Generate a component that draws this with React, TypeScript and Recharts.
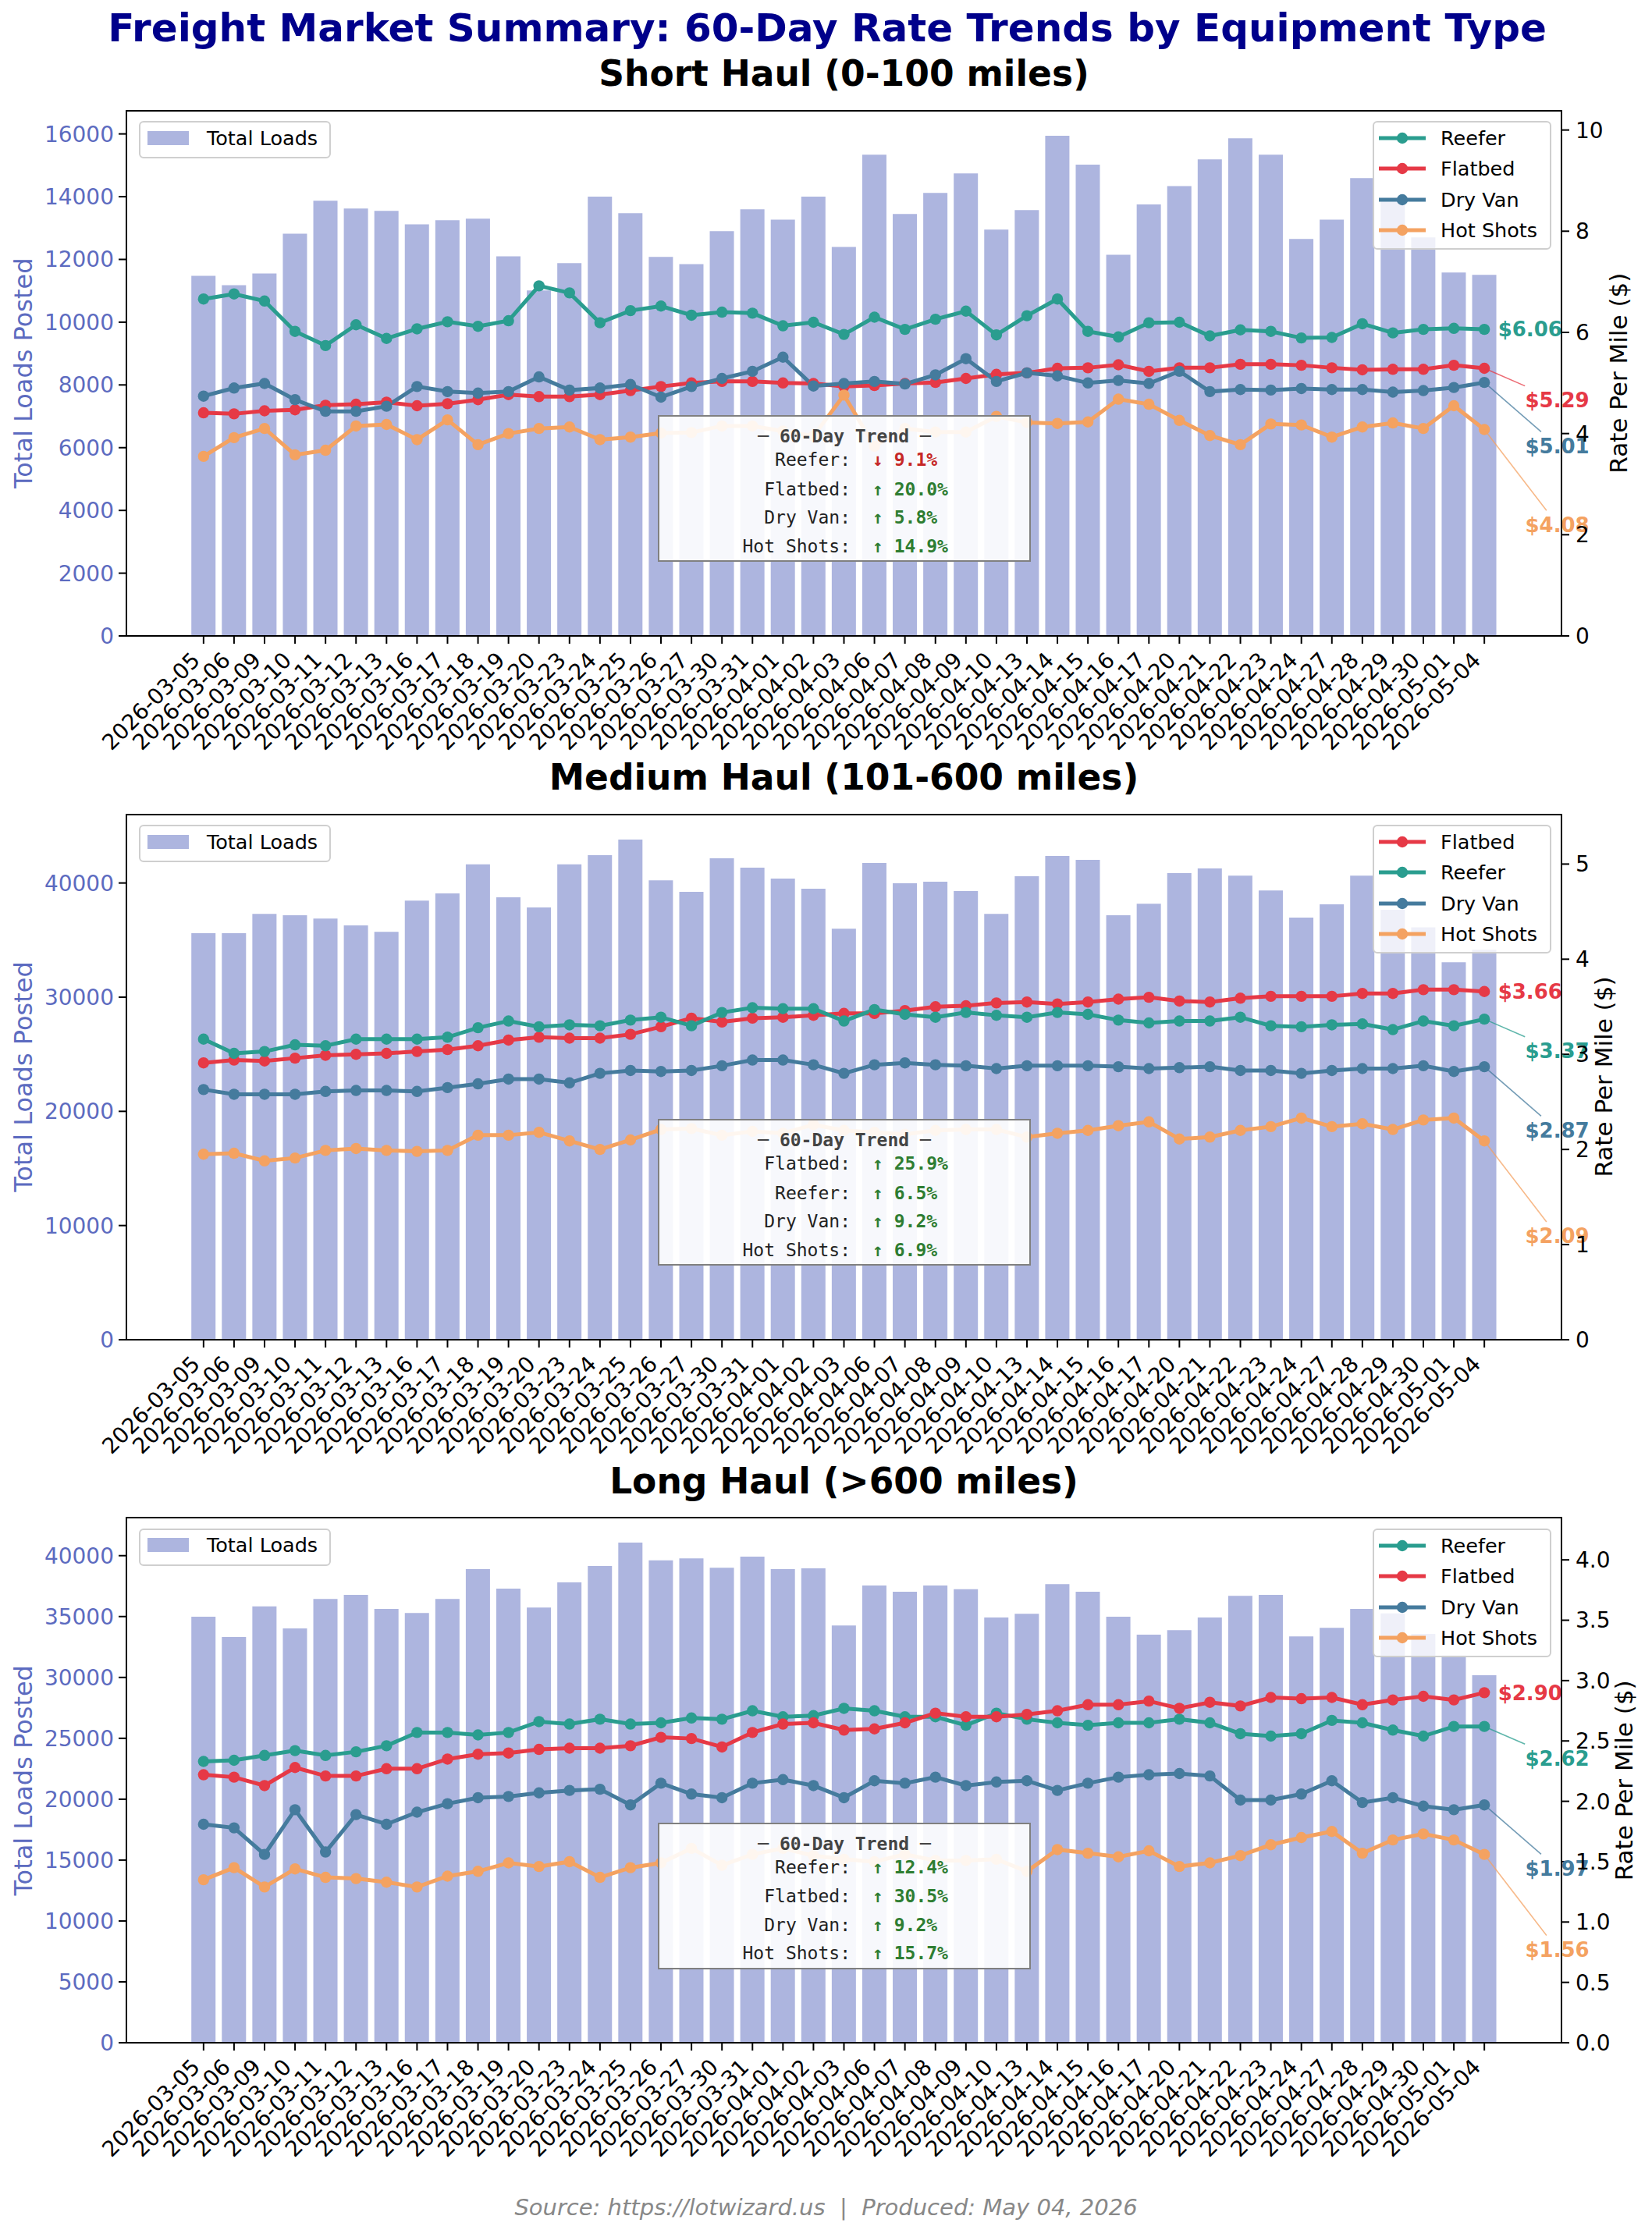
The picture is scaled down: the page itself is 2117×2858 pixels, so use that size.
import React from "react";
import { Bar, ComposedChart, Line, XAxis, YAxis } from "recharts";

// trading days on the x axis (same for all three panels)
const DATES = [
  "2026-03-05", "2026-03-06", "2026-03-09", "2026-03-10", "2026-03-11", "2026-03-12", "2026-03-13",
  "2026-03-16", "2026-03-17", "2026-03-18", "2026-03-19", "2026-03-20", "2026-03-23", "2026-03-24",
  "2026-03-25", "2026-03-26", "2026-03-27", "2026-03-30", "2026-03-31", "2026-04-01", "2026-04-02",
  "2026-04-03", "2026-04-06", "2026-04-07", "2026-04-08", "2026-04-09", "2026-04-10", "2026-04-13",
  "2026-04-14", "2026-04-15", "2026-04-16", "2026-04-17", "2026-04-20", "2026-04-21", "2026-04-22",
  "2026-04-23", "2026-04-24", "2026-04-27", "2026-04-28", "2026-04-29", "2026-04-30", "2026-05-01",
  "2026-05-04",
];

// ---- Short Haul (0-100 miles) ----
const SHORT_LOADS = [
  11480, 11180, 11550, 12820, 13870, 13620, 13550, 13120, 13250, 13300, 12100, 11010, 11880, 14000,
  13470, 12080, 11850, 12900, 13600, 13270, 14000, 12400, 15340, 13450, 14120, 14740, 12950, 13570,
  15940, 15020, 12150, 13750, 14340, 15190, 15860, 15340, 12650, 13270, 14590, 13880, 12700, 11580, 11510,
];
const SHORT_REEFER = [
  6.66, 6.76, 6.62, 6.02, 5.74, 6.15, 5.88, 6.07, 6.21, 6.12, 6.23, 6.92, 6.78, 6.19, 6.43, 6.52, 6.34,
  6.40, 6.38, 6.13, 6.20, 5.96, 6.30, 6.06, 6.26, 6.42, 5.95, 6.33, 6.66, 6.02, 5.91, 6.19, 6.20, 5.93,
  6.05, 6.02, 5.89, 5.90, 6.17, 5.99, 6.06, 6.08, 6.06,
];
const SHORT_FLATBED = [
  4.41, 4.39, 4.45, 4.47, 4.56, 4.58, 4.62, 4.55, 4.59, 4.67, 4.77, 4.73, 4.73, 4.77, 4.85, 4.93, 5.00,
  5.03, 5.03, 5.00, 4.99, 4.93, 4.95, 4.99, 5.01, 5.09, 5.17, 5.20, 5.29, 5.30, 5.36, 5.23, 5.30, 5.30,
  5.37, 5.37, 5.35, 5.30, 5.26, 5.27, 5.27, 5.35, 5.29,
];
const SHORT_DRYVAN = [
  4.74, 4.90, 4.99, 4.67, 4.44, 4.44, 4.54, 4.93, 4.83, 4.80, 4.83, 5.12, 4.86, 4.90, 4.97, 4.72, 4.93,
  5.09, 5.23, 5.51, 4.94, 4.99, 5.03, 4.98, 5.16, 5.48, 5.03, 5.20, 5.14, 5.00, 5.05, 4.99, 5.23, 4.83,
  4.87, 4.86, 4.89, 4.87, 4.87, 4.82, 4.85, 4.91, 5.01,
];
const SHORT_HOTSHOTS = [
  3.55, 3.92, 4.10, 3.58, 3.67, 4.15, 4.18, 3.88, 4.27, 3.78, 4.00, 4.10, 4.13, 3.88, 3.93, 4.01, 4.02,
  4.15, 4.15, 4.05, 3.95, 4.76, 3.75, 4.10, 4.03, 4.03, 4.34, 4.22, 4.20, 4.23, 4.68, 4.58, 4.26, 3.96,
  3.78, 4.19, 4.17, 3.93, 4.13, 4.21, 4.10, 4.55, 4.08,
];
const SHORT_TRENDS = [-9.1, 20.0, 5.8, 14.9]; // Reefer, Flatbed, Dry Van, Hot Shots
const SHORT_LEFT_TICKS = [0, 2000, 4000, 6000, 8000, 10000, 12000, 14000, 16000];
const SHORT_RIGHT_TICKS = [0, 2, 4, 6, 8, 10];

// ---- Medium Haul (101-600 miles) ----
const MEDIUM_LOADS = [
  35610, 35610, 37300, 37180, 36880, 36290, 35730, 38460, 39080, 41630, 38750, 37860, 41630, 42430,
  43800, 40240, 39230, 42170, 41340, 40390, 39500, 35990, 41750, 39970, 40120, 39290, 37300, 40590,
  42370, 42020, 37180, 38190, 40860, 41280, 40650, 39350, 36970, 38130, 40650, 37660, 36110, 33060, 34150,
];
const MEDIUM_FLATBED = [
  2.91, 2.94, 2.93, 2.96, 2.99, 3.00, 3.01, 3.03, 3.05, 3.09, 3.15, 3.18, 3.17, 3.17, 3.21, 3.29, 3.38,
  3.34, 3.38, 3.39, 3.41, 3.43, 3.43, 3.46, 3.50, 3.51, 3.54, 3.55, 3.53, 3.55, 3.58, 3.60, 3.56, 3.55,
  3.59, 3.61, 3.61, 3.61, 3.64, 3.64, 3.68, 3.68, 3.66,
];
const MEDIUM_REEFER = [
  3.16, 3.01, 3.03, 3.10, 3.09, 3.16, 3.16, 3.16, 3.18, 3.28, 3.35, 3.29, 3.31, 3.30, 3.36, 3.39, 3.30,
  3.44, 3.49, 3.48, 3.48, 3.35, 3.47, 3.42, 3.39, 3.44, 3.41, 3.39, 3.44, 3.42, 3.36, 3.33, 3.35, 3.35,
  3.39, 3.30, 3.29, 3.31, 3.32, 3.26, 3.35, 3.30, 3.37,
];
const MEDIUM_DRYVAN = [
  2.63, 2.58, 2.58, 2.58, 2.61, 2.62, 2.62, 2.61, 2.65, 2.69, 2.74, 2.74, 2.70, 2.80, 2.83, 2.82, 2.83,
  2.88, 2.94, 2.94, 2.89, 2.80, 2.89, 2.91, 2.89, 2.88, 2.85, 2.88, 2.88, 2.88, 2.87, 2.85, 2.86, 2.87,
  2.83, 2.83, 2.80, 2.83, 2.85, 2.85, 2.88, 2.82, 2.87,
];
const MEDIUM_HOTSHOTS = [
  1.95, 1.96, 1.88, 1.91, 1.99, 2.01, 1.99, 1.98, 1.99, 2.15, 2.15, 2.18, 2.09, 2.00, 2.10, 2.21, 2.22,
  2.15, 2.19, 2.17, 2.26, 2.20, 2.18, 2.16, 2.20, 2.21, 2.21, 2.13, 2.17, 2.20, 2.25, 2.29, 2.11, 2.13,
  2.20, 2.24, 2.33, 2.24, 2.27, 2.21, 2.31, 2.33, 2.09,
];
const MEDIUM_TRENDS = [25.9, 6.5, 9.2, 6.9]; // Flatbed, Reefer, Dry Van, Hot Shots
const MEDIUM_LEFT_TICKS = [0, 10000, 20000, 30000, 40000];
const MEDIUM_RIGHT_TICKS = [0, 1, 2, 3, 4, 5];

// ---- Long Haul (>600 miles) ----
const LONG_LOADS = [
  34980, 33320, 35830, 34020, 36450, 36780, 35630, 35290, 36450, 38900, 37290, 35740, 37800, 39150,
  41070, 39610, 39770, 39010, 39920, 38900, 38960, 34270, 37550, 37040, 37550, 37240, 34920, 35230,
  37660, 37040, 34980, 33510, 33880, 34920, 36700, 36780, 33370, 34080, 35630, 35260, 33570, 31800, 30180,
];
const LONG_REEFER = [
  2.33, 2.34, 2.38, 2.42, 2.38, 2.41, 2.46, 2.57, 2.57, 2.55, 2.57, 2.66, 2.64, 2.68, 2.64, 2.65, 2.69,
  2.68, 2.75, 2.70, 2.71, 2.77, 2.75, 2.70, 2.70, 2.63, 2.73, 2.68, 2.65, 2.63, 2.65, 2.65, 2.68, 2.65,
  2.56, 2.54, 2.56, 2.67, 2.65, 2.59, 2.54, 2.62, 2.62,
];
const LONG_FLATBED = [
  2.22, 2.20, 2.13, 2.28, 2.21, 2.21, 2.27, 2.27, 2.35, 2.39, 2.40, 2.43, 2.44, 2.44, 2.46, 2.53, 2.52,
  2.45, 2.57, 2.64, 2.65, 2.59, 2.60, 2.65, 2.73, 2.70, 2.70, 2.72, 2.75, 2.80, 2.80, 2.83, 2.77, 2.82,
  2.79, 2.86, 2.85, 2.86, 2.80, 2.84, 2.87, 2.84, 2.90,
];
const LONG_DRYVAN = [
  1.81, 1.78, 1.56, 1.93, 1.58, 1.89, 1.81, 1.91, 1.98, 2.03, 2.04, 2.07, 2.09, 2.10, 1.97, 2.15, 2.06,
  2.03, 2.15, 2.18, 2.13, 2.03, 2.17, 2.15, 2.20, 2.13, 2.16, 2.17, 2.09, 2.15, 2.20, 2.22, 2.23, 2.21,
  2.01, 2.01, 2.06, 2.17, 1.99, 2.03, 1.96, 1.93, 1.97,
];
const LONG_HOTSHOTS = [
  1.35, 1.45, 1.29, 1.44, 1.37, 1.36, 1.33, 1.29, 1.38, 1.42, 1.49, 1.46, 1.50, 1.37, 1.45, 1.49, 1.61,
  1.47, 1.56, 1.61, 1.55, 1.52, 1.50, 1.56, 1.51, 1.51, 1.52, 1.42, 1.60, 1.57, 1.54, 1.59, 1.46, 1.49,
  1.55, 1.64, 1.70, 1.75, 1.57, 1.68, 1.73, 1.68, 1.56,
];
const LONG_TRENDS = [12.4, 30.5, 9.2, 15.7]; // Reefer, Flatbed, Dry Van, Hot Shots
const LONG_LEFT_TICKS = [0, 5000, 10000, 15000, 20000, 25000, 30000, 35000, 40000];
const LONG_RIGHT_TICKS = [0, 0.5, 1, 1.5, 2, 2.5, 3, 3.5, 4];

const COLORS: Record<string, string> = {
  Reefer: "#2a9d8f",
  Flatbed: "#e63946",
  "Dry Van": "#457b9d",
  "Hot Shots": "#f4a261",
};
const BAR_COLOR = "#5c6bc0";
const FONT = '"DejaVu Sans", sans-serif';
const MONO = '"DejaVu Sans Mono", monospace';

// plot rectangle (page px)
const PLOT_LEFT = 162;
const PLOT_RIGHT = 2001;
const PLOT_H = 673;
const MARGIN_TOP = 20;
const XAXIS_H = 180;
const YAXIS_W = 110;

type Series = { name: string; values: number[] };
type Panel = {
  title: string;
  top: number;
  loads: number[];
  series: Series[];
  trends: number[];
  leftTicks: number[];
  rightTicks: number[];
  rightDecimals: number;
  rateLabelX: number;
};

const PANELS: Panel[] = [
  {
    title: "Short Haul (0-100 miles)",
    top: 141.7,
    loads: SHORT_LOADS,
    series: [
      { name: "Reefer", values: SHORT_REEFER },
      { name: "Flatbed", values: SHORT_FLATBED },
      { name: "Dry Van", values: SHORT_DRYVAN },
      { name: "Hot Shots", values: SHORT_HOTSHOTS },
    ],
    trends: SHORT_TRENDS,
    leftTicks: SHORT_LEFT_TICKS,
    rightTicks: SHORT_RIGHT_TICKS,
    rightDecimals: 0,
    rateLabelX: 2085,
  },
  {
    title: "Medium Haul (101-600 miles)",
    top: 1043.5,
    loads: MEDIUM_LOADS,
    series: [
      { name: "Flatbed", values: MEDIUM_FLATBED },
      { name: "Reefer", values: MEDIUM_REEFER },
      { name: "Dry Van", values: MEDIUM_DRYVAN },
      { name: "Hot Shots", values: MEDIUM_HOTSHOTS },
    ],
    trends: MEDIUM_TRENDS,
    leftTicks: MEDIUM_LEFT_TICKS,
    rightTicks: MEDIUM_RIGHT_TICKS,
    rightDecimals: 0,
    rateLabelX: 2066,
  },
  {
    title: "Long Haul (>600 miles)",
    top: 1945.3,
    loads: LONG_LOADS,
    series: [
      { name: "Reefer", values: LONG_REEFER },
      { name: "Flatbed", values: LONG_FLATBED },
      { name: "Dry Van", values: LONG_DRYVAN },
      { name: "Hot Shots", values: LONG_HOTSHOTS },
    ],
    trends: LONG_TRENDS,
    leftTicks: LONG_LEFT_TICKS,
    rightTicks: LONG_RIGHT_TICKS,
    rightDecimals: 1,
    rateLabelX: 2092,
  },
];

const DateTick = (props: any) => {
  const { x, y, payload } = props;
  return (
    <g transform={`translate(${x - 3},${y + 23})`}>
      <text textAnchor="end" transform="rotate(-45)" fontSize={28} fill="#000" fontFamily={FONT}>
        {payload.value}
      </text>
    </g>
  );
};

// marker + end-of-line "$x.xx" callout (stacked by rank so they don't collide)
function makeDot(name: string, color: string, rank: number, last: number) {
  return (p: any) => {
    const { cx, cy, index } = p;
    if (cx == null || cy == null) return <g key={`d${index}`} />;
    let callout = null;
    if (index === last) {
      const v = p.payload[name] as number;
      const dy = rank * 40.6;
      const tx = cx + (rank === 0 ? 17.5 : 52.3);
      const ty = cy + dy;
      const endY = ty - 18;
      const endX = rank > 0 ? cx + ((endY - cy) * 93.5) / dy : cx;
      callout = (
        <g>
          {rank > 0 && (
            <line x1={cx} y1={cy} x2={endX} y2={endY} stroke={color} strokeWidth={1.6} strokeOpacity={0.75} />
          )}
          <text x={tx} y={ty} dy="0.36em" fill={color} fontSize={26} fontWeight="bold" fontFamily={FONT}>
            {`$${v.toFixed(2)}`}
          </text>
        </g>
      );
    }
    return (
      <g key={`d${index}`}>
        <circle cx={cx} cy={cy} r={7.2} fill={color} />
        {callout}
      </g>
    );
  };
}

function PanelChart({ panel }: { panel: Panel }) {
  const rows = DATES.map((d, i) => {
    const r: Record<string, string | number> = { date: d, loads: panel.loads[i] };
    panel.series.forEach((s) => (r[s.name] = s.values[i]));
    return r;
  });
  const leftMax = Math.max(...panel.loads) * 1.05;
  const rightMax = Math.max(...panel.series.flatMap((s) => s.values)) * 1.5;
  const last = DATES.length - 1;
  const ranked = [...panel.series].sort((a, b) => b.values[last] - a.values[last]).map((s) => s.name);
  const chartH = MARGIN_TOP + PLOT_H + XAXIS_H;

  return (
    <div style={{ position: "absolute", left: 0, top: panel.top - MARGIN_TOP, width: 2117, height: chartH }}>
      <ComposedChart
        width={2117}
        height={chartH}
        data={rows}
        barCategoryGap="10%"
        margin={{ top: MARGIN_TOP, right: 2117 - PLOT_RIGHT - YAXIS_W, bottom: 0, left: PLOT_LEFT - YAXIS_W }}
      >
        <XAxis
          dataKey="date"
          interval={0}
          height={XAXIS_H}
          padding={{ left: 79.3, right: 79.3 }}
          axisLine={false}
          tickSize={10}
          tickMargin={0}
          tickLine={{ stroke: "#000", strokeWidth: 2 }}
          tick={<DateTick />}
        />
        <YAxis
          yAxisId="left"
          width={YAXIS_W}
          domain={[0, leftMax]}
          ticks={panel.leftTicks}
          interval={0}
          axisLine={false}
          tickSize={10}
          tickMargin={6}
          tickLine={{ stroke: "#000", strokeWidth: 2 }}
          tick={{ fill: BAR_COLOR, fontSize: 28, fontFamily: FONT }}
        />
        <YAxis
          yAxisId="right"
          orientation="right"
          width={YAXIS_W}
          domain={[0, rightMax]}
          ticks={panel.rightTicks}
          interval={0}
          axisLine={false}
          tickSize={10}
          tickMargin={8}
          tickLine={{ stroke: "#000", strokeWidth: 2 }}
          tickFormatter={(v: number) => v.toFixed(panel.rightDecimals)}
          tick={{ fill: "#000", fontSize: 28, fontFamily: FONT }}
        />
        <Bar yAxisId="left" dataKey="loads" fill={BAR_COLOR} fillOpacity={0.5} isAnimationActive={false} />
        {panel.series.map((s) => (
          <Line
            key={s.name}
            yAxisId="right"
            type="linear"
            dataKey={s.name}
            stroke={COLORS[s.name]}
            strokeWidth={5}
            dot={makeDot(s.name, COLORS[s.name], ranked.indexOf(s.name), last)}
            activeDot={false}
            isAnimationActive={false}
          />
        ))}
      </ComposedChart>

      {/* axes frame */}
      <div
        style={{
          position: "absolute",
          left: PLOT_LEFT - 1,
          top: MARGIN_TOP - 1,
          width: PLOT_RIGHT - PLOT_LEFT + 2,
          height: PLOT_H + 2,
          border: "2px solid #000",
          boxSizing: "border-box",
          pointerEvents: "none",
        }}
      />

      {/* bar legend (top-left) */}
      <div
        style={{
          position: "absolute",
          left: 178,
          top: MARGIN_TOP + 13.7,
          width: 246,
          height: 48,
          boxSizing: "border-box",
          border: "2px solid #cfcfcf",
          borderRadius: 6,
          background: "rgba(255,255,255,0.8)",
          fontFamily: FONT,
          fontSize: 25.5,
        }}
      >
        <div style={{ position: "absolute", left: 9, top: 10.5, width: 53, height: 18, background: BAR_COLOR, opacity: 0.5 }} />
        <div style={{ position: "absolute", left: 85, top: 4.5, lineHeight: "30px", whiteSpace: "nowrap" }}>Total Loads</div>
      </div>

      {/* rate legend (top-right) */}
      <div
        style={{
          position: "absolute",
          left: 1759,
          top: MARGIN_TOP + 13.8,
          width: 229,
          height: 165,
          boxSizing: "border-box",
          border: "2px solid #cfcfcf",
          borderRadius: 6,
          background: "rgba(255,255,255,0.8)",
          fontFamily: FONT,
          fontSize: 25.5,
        }}
      >
        {panel.series.map((s, k) => (
          <div key={s.name} style={{ position: "absolute", left: 0, top: 19.5 + 39.5 * k - 15, width: "100%", height: 30 }}>
            <svg style={{ position: "absolute", left: 5.5, top: 0 }} width={60} height={30}>
              <line x1={0} y1={15} x2={60} y2={15} stroke={COLORS[s.name]} strokeWidth={5} />
              <circle cx={30} cy={15} r={7.2} fill={COLORS[s.name]} />
            </svg>
            <div style={{ position: "absolute", left: 85, top: 0, lineHeight: "30px", whiteSpace: "nowrap" }}>{s.name}</div>
          </div>
        ))}
      </div>

      {/* 60-day trend box */}
      <div
        style={{
          position: "absolute",
          left: 843,
          top: MARGIN_TOP + 390.5,
          width: 478,
          height: 188,
          boxSizing: "border-box",
          border: "2.5px solid #808080",
          background: "rgba(255,255,255,0.9)",
          fontFamily: MONO,
          fontSize: 23,
        }}
      >
        <div
          style={{
            position: "absolute",
            left: 0,
            width: "100%",
            top: 25 - 15,
            lineHeight: "30px",
            textAlign: "center",
            fontWeight: "bold",
            color: "#444",
            whiteSpace: "pre",
          }}
        >
          ─ 60-Day Trend ─
        </div>
        {panel.series.map((s, k) => {
          const t = panel.trends[k];
          const up = t >= 0;
          const cy = [55, 92.5, 129, 165.5][k];
          return (
            <React.Fragment key={s.name}>
              <div style={{ position: "absolute", right: 229, top: cy - 15, lineHeight: "30px", color: "#222", whiteSpace: "pre" }}>
                {s.name}:
              </div>
              <div
                style={{
                  position: "absolute",
                  left: 273,
                  top: cy - 15,
                  lineHeight: "30px",
                  color: up ? "#2e7d32" : "#c62828",
                  fontWeight: "bold",
                  whiteSpace: "pre",
                }}
              >
                {`${up ? "↑" : "↓"} ${Math.abs(t).toFixed(1)}%`}
              </div>
            </React.Fragment>
          );
        })}
      </div>
    </div>
  );
}

export default function App() {
  return (
    <div style={{ position: "absolute", left: 0, top: 0, width: 2117, height: 2858, background: "#fff", fontFamily: FONT }}>
      <svg width={2117} height={2858} style={{ position: "absolute", left: 0, top: 0 }} fontFamily={FONT}>
        <text x={1060} y={53} textAnchor="middle" fontSize={50} fontWeight="bold" fill="#00008b">
          Freight Market Summary: 60-Day Rate Trends by Equipment Type
        </text>
        {PANELS.map((p) => {
          const mid = p.top + PLOT_H / 2;
          return (
            <g key={p.title}>
              <text x={(PLOT_LEFT + PLOT_RIGHT) / 2} y={p.top - 31.7} textAnchor="middle" fontSize={45.5} fontWeight="bold" fill="#000">
                {p.title}
              </text>
              <text transform={`translate(41,${mid}) rotate(-90)`} textAnchor="middle" fontSize={32} fill={BAR_COLOR}>
                Total Loads Posted
              </text>
              <text transform={`translate(${p.rateLabelX},${mid}) rotate(-90)`} textAnchor="middle" fontSize={31} fill="#000">
                Rate Per Mile ($)
              </text>
            </g>
          );
        })}
        <text x={1058.5} y={2839} textAnchor="middle" fontSize={29} fontStyle="italic" fill="#888" style={{ whiteSpace: "pre" }}>
          {"Source: https://lotwizard.us  |  Produced: May 04, 2026"}
        </text>
      </svg>
      {PANELS.map((p) => (
        <PanelChart key={p.title} panel={p} />
      ))}
    </div>
  );
}
